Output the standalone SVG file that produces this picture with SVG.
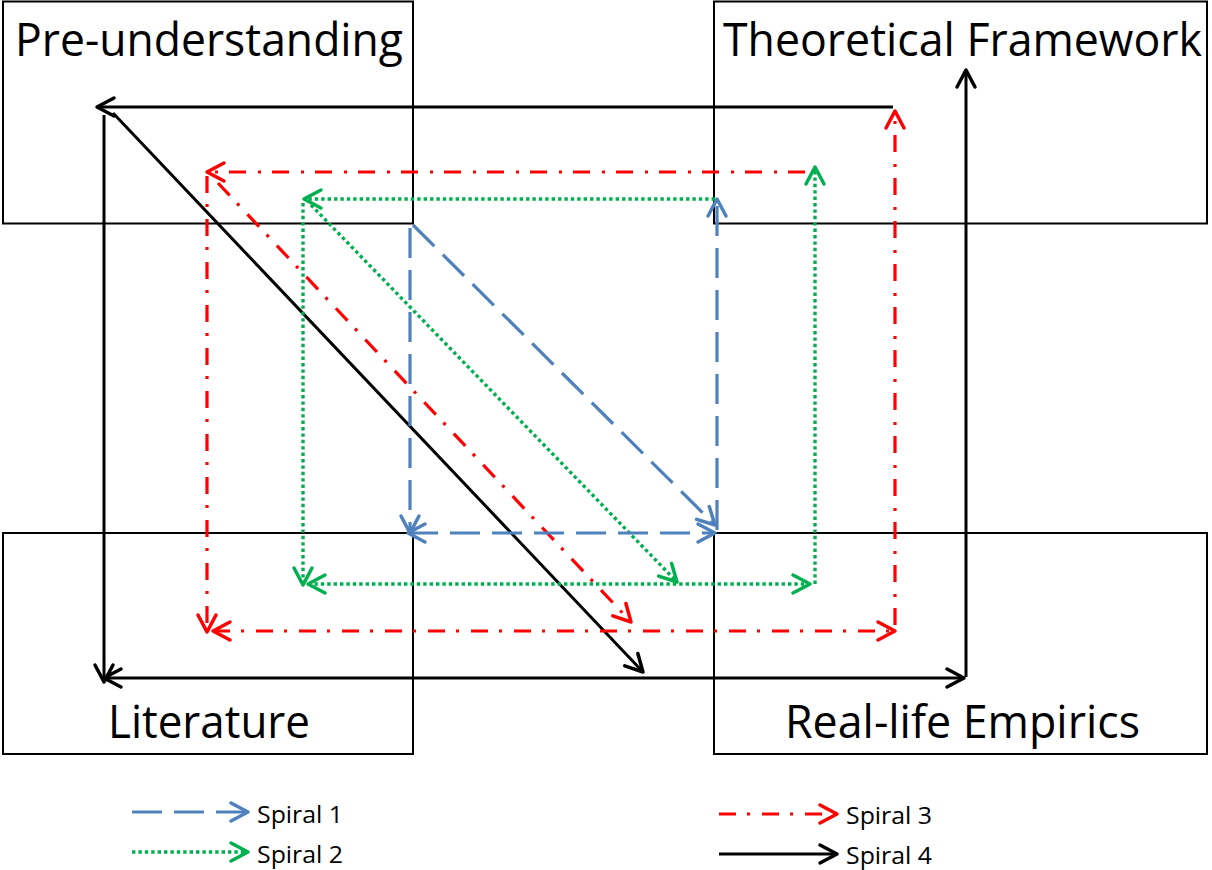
<svg xmlns="http://www.w3.org/2000/svg" width="1212" height="870" viewBox="0 0 1212 870">
  <style>
    .box { fill: none; stroke: #000; stroke-width: 2; }
    .label { font-family: "Open Sans", "Liberation Sans", sans-serif; font-size: 45px; fill: #000; }
    .leg { font-family: "Open Sans", "Liberation Sans", sans-serif; font-size: 24px; fill: #000; }
    .s1 { fill: none; stroke: #4F81BD; stroke-width: 3.2; stroke-dasharray: 30 12; marker-end: url(#mBlue); }
    .s2 { fill: none; stroke: #00B050; stroke-width: 3.4; stroke-dasharray: 3.4 3; marker-end: url(#mGreen); }
    .s3 { fill: none; stroke: #FF0000; stroke-width: 3.2; stroke-dasharray: 17 11 3 12; marker-end: url(#mRed); }
    .s4 { fill: none; stroke: #000; stroke-width: 3; marker-end: url(#mBlack); }
    .s1.both { marker-start: url(#mBlue); }
    .s2.both { marker-start: url(#mGreen); }
    .s3.both { marker-start: url(#mRed); }
    .s4.both { marker-start: url(#mBlack); }
  </style>
  <defs>
    <marker id="mBlue" markerUnits="userSpaceOnUse" viewBox="-22 -13 26 26" markerWidth="26" markerHeight="26" refX="0" refY="0" orient="auto-start-reverse">
      <path d="M-17,-9 L0,0 L-17,9" fill="none" stroke="#4F81BD" stroke-width="3.5" stroke-linecap="round" stroke-linejoin="round"/>
    </marker>
    <marker id="mGreen" markerUnits="userSpaceOnUse" viewBox="-22 -13 26 26" markerWidth="26" markerHeight="26" refX="0" refY="0" orient="auto-start-reverse">
      <path d="M-17,-9 L0,0 L-17,9" fill="none" stroke="#00B050" stroke-width="3.5" stroke-linecap="round" stroke-linejoin="round"/>
    </marker>
    <marker id="mRed" markerUnits="userSpaceOnUse" viewBox="-22 -13 26 26" markerWidth="26" markerHeight="26" refX="0" refY="0" orient="auto-start-reverse">
      <path d="M-17,-9 L0,0 L-17,9" fill="none" stroke="#FF0000" stroke-width="3.5" stroke-linecap="round" stroke-linejoin="round"/>
    </marker>
    <marker id="mBlack" markerUnits="userSpaceOnUse" viewBox="-22 -13 26 26" markerWidth="26" markerHeight="26" refX="0" refY="0" orient="auto-start-reverse">
      <path d="M-17,-9 L0,0 L-17,9" fill="none" stroke="#000" stroke-width="3.5" stroke-linecap="round" stroke-linejoin="round"/>
    </marker>
  </defs>
  <rect width="1212" height="870" fill="#fff"/>

  <g id="node-preunderstanding">
    <rect class="box" x="3" y="1.5" width="410" height="222"/>
    <text class="label" x="15" y="56" textLength="388" lengthAdjust="spacingAndGlyphs">Pre-understanding</text>
  </g>
  <g id="node-theoretical">
    <rect class="box" x="714" y="1.5" width="493" height="222"/>
    <text class="label" x="723" y="56" textLength="479" lengthAdjust="spacingAndGlyphs">Theoretical Framework</text>
  </g>
  <g id="node-literature">
    <rect class="box" x="3" y="533" width="410" height="221"/>
    <text class="label" x="108" y="738" textLength="202" lengthAdjust="spacingAndGlyphs">Literature</text>
  </g>
  <g id="node-empirics">
    <rect class="box" x="714" y="533" width="493" height="221"/>
    <text class="label" x="785" y="738" textLength="355" lengthAdjust="spacingAndGlyphs">Real-life Empirics</text>
  </g>

  <g id="connectors">
    <g id="spiral4">
      <path class="s4" d="M893,107 L97,107"/>
      <path class="s4" d="M104,115 L104,682"/>
      <path class="s4 both" d="M104,678 L964,678"/>
      <path class="s4" d="M966,677 L966,70"/>
      <path class="s4" d="M113,113 L643,672"/>
    </g>
    <g id="spiral3">
      <path class="s3" d="M805,172 L207,172"/>
      <path class="s3" d="M207,176 L207,632"/>
      <path class="s3 both" d="M213,631 L895,631"/>
      <path class="s3" d="M895,625 L895,111"/>
      <path class="s3" d="M218,183 L631,622"/>
    </g>
    <g id="spiral2">
      <path class="s2" d="M715,199 L304,199"/>
      <path class="s2" d="M303,203 L303,585"/>
      <path class="s2 both" d="M308,584 L810,584"/>
      <path class="s2" d="M815,584 L815,167"/>
      <path class="s2" d="M311,205 L677,582"/>
    </g>
    <g id="spiral1">
      <path class="s1" d="M410,228 L410,533"/>
      <path class="s1 both" d="M408,533 L715,533"/>
      <path class="s1" d="M717,530 L717,199"/>
      <path class="s1" d="M413,225 L715,525"/>
    </g>
  </g>

  <g id="legend">
    <path class="s1" d="M132,812 L248,812"/>
    <text class="leg" x="257" y="823" textLength="86" lengthAdjust="spacingAndGlyphs">Spiral 1</text>
    <path class="s2" d="M132,852 L248,852"/>
    <text class="leg" x="257" y="863" textLength="86" lengthAdjust="spacingAndGlyphs">Spiral 2</text>
    <path class="s3" d="M719,814 L837,814"/>
    <text class="leg" x="846" y="824" textLength="86" lengthAdjust="spacingAndGlyphs">Spiral 3</text>
    <path class="s4" d="M719,854 L837,854"/>
    <text class="leg" x="846" y="864" textLength="86" lengthAdjust="spacingAndGlyphs">Spiral 4</text>
  </g>
</svg>
